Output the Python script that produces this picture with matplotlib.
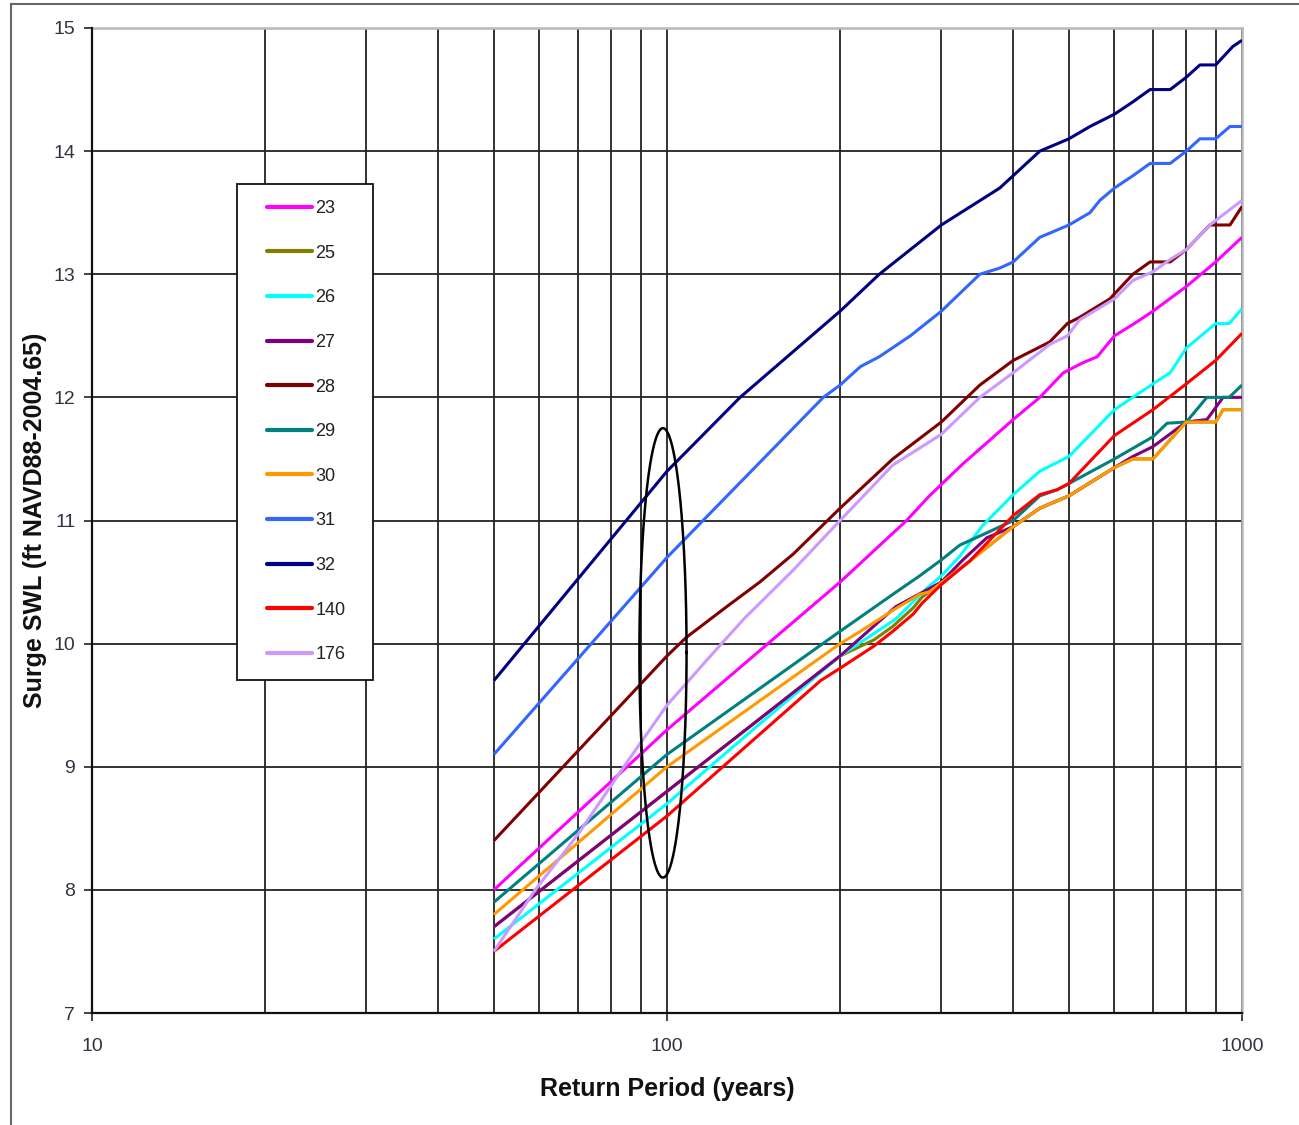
import matplotlib
matplotlib.use("Agg")
import matplotlib.pyplot as plt
import numpy as np
from matplotlib.ticker import LogLocator, FixedLocator, NullFormatter, FuncFormatter
from matplotlib.patches import Rectangle
from matplotlib.lines import Line2D

plt.rcParams['font.family'] = ['Liberation Sans', 'DejaVu Sans']

# ---- data (return period in years, surge SWL in ft) ----
x23 = [50, 100, 200, 261, 286, 327, 400, 445, 489, 528, 560, 600, 650, 700, 800, 900, 1000]
y23 = [8.0, 9.3, 10.5, 11.0, 11.2, 11.46, 11.82, 12.0, 12.2, 12.28, 12.33, 12.5, 12.6, 12.7, 12.9, 13.1, 13.3]

x25 = [50, 100, 200, 229, 247, 268, 278, 286, 336, 400, 445, 500, 600, 646, 700, 800, 900, 927, 1000]
y25 = [7.7, 8.8, 9.9, 10.03, 10.14, 10.29, 10.38, 10.42, 10.67, 10.95, 11.1, 11.2, 11.43, 11.5, 11.5, 11.8, 11.8, 11.9, 11.9]

x26 = [50, 100, 141, 200, 250, 283, 300, 323, 354, 400, 445, 500, 600, 700, 750, 800, 900, 950, 1000]
y26 = [7.6, 8.7, 9.3, 9.9, 10.2, 10.45, 10.55, 10.71, 10.96, 11.21, 11.4, 11.52, 11.9, 12.11, 12.2, 12.4, 12.6, 12.6, 12.72]

x27 = [50, 100, 200, 250, 300, 327, 360, 400, 445, 500, 600, 646, 700, 800, 869, 927, 1000]
y27 = [7.7, 8.8, 9.9, 10.3, 10.5, 10.68, 10.86, 10.95, 11.1, 11.2, 11.43, 11.52, 11.6, 11.8, 11.82, 12.0, 12.0]

x28 = [50, 100, 108, 127, 145, 166, 200, 247, 300, 350, 400, 463, 497, 522, 589, 646, 692, 750, 800, 879, 953, 1000]
y28 = [8.4, 9.9, 10.05, 10.3, 10.5, 10.73, 11.1, 11.5, 11.8, 12.1, 12.3, 12.45, 12.6, 12.65, 12.8, 13.0, 13.1, 13.1, 13.2, 13.4, 13.4, 13.55]

x29 = [50, 100, 200, 247, 275, 300, 323, 360, 400, 445, 477, 500, 600, 700, 741, 800, 869, 950, 1000]
y29 = [7.9, 9.1, 10.1, 10.4, 10.55, 10.68, 10.8, 10.9, 11.0, 11.2, 11.25, 11.3, 11.5, 11.68, 11.79, 11.8, 12.0, 12.0, 12.1]

x30 = [50, 100, 200, 217, 247, 275, 286, 336, 400, 445, 500, 600, 646, 700, 800, 900, 927, 1000]
y30 = [7.8, 9.0, 10.0, 10.1, 10.27, 10.4, 10.42, 10.67, 10.95, 11.1, 11.2, 11.43, 11.5, 11.5, 11.8, 11.8, 11.9, 11.9]

x31 = [50, 100, 187, 200, 217, 234, 265, 300, 350, 379, 400, 445, 500, 544, 566, 600, 646, 692, 750, 800, 845, 900, 953, 1000]
y31 = [9.1, 10.7, 12.0, 12.1, 12.25, 12.33, 12.5, 12.7, 13.0, 13.05, 13.1, 13.3, 13.4, 13.5, 13.6, 13.7, 13.8, 13.9, 13.9, 14.0, 14.1, 14.1, 14.2, 14.2]

x32 = [50, 100, 134, 200, 234, 300, 379, 445, 500, 544, 600, 646, 692, 750, 800, 845, 900, 964, 1000]
y32 = [9.7, 11.4, 12.0, 12.7, 13.0, 13.4, 13.7, 14.0, 14.1, 14.2, 14.3, 14.4, 14.5, 14.5, 14.6, 14.7, 14.7, 14.85, 14.9]

x140 = [50, 100, 185, 200, 229, 247, 268, 278, 300, 336, 400, 445, 477, 500, 600, 700, 800, 900, 1000]
y140 = [7.5, 8.6, 9.7, 9.8, 9.98, 10.1, 10.24, 10.33, 10.48, 10.67, 11.04, 11.21, 11.25, 11.3, 11.69, 11.9, 12.11, 12.3, 12.52]

x176 = [50, 59, 70, 85, 100, 118, 136, 166, 200, 247, 300, 350, 400, 463, 497, 522, 600, 646, 700, 750, 800, 879, 1000]
y176 = [7.5, 8.0, 8.45, 9.03, 9.5, 9.88, 10.2, 10.6, 11.0, 11.45, 11.7, 12.0, 12.2, 12.43, 12.5, 12.63, 12.8, 12.95, 13.02, 13.12, 13.2, 13.4, 13.6]

labels = ['23', '25', '26', '27', '28', '29', '30', '31', '32', '140', '176']
colors = ['#FF00FF', '#808000', '#00FFFF', '#800080', '#800000', '#008080',
          '#FF9900', '#3366FF', '#000080', '#FF0000', '#CC99FF']
series = [(x23, y23), (x25, y25), (x26, y26), (x27, y27), (x28, y28), (x29, y29),
          (x30, y30), (x31, y31), (x32, y32), (x140, y140), (x176, y176)]

x_ticks = [10, 100, 1000]
y_ticks = [7, 8, 9, 10, 11, 12, 13, 14, 15]

# highlight ellipse around the 100-year return period
ell_x_center = 98.4
ell_half_logw = 0.041
ell_y_low, ell_y_high = 8.1, 11.75

# ---- figure ----
W, H = 1299, 1125
fig = plt.figure(figsize=(W / 100, H / 100), dpi=100)
ax = fig.add_axes([92 / W, 1 - 1013 / H, (1242 - 92) / W, (1013 - 28) / H])

ax.set_xscale('log')
ax.set_xlim(10, 1000)
ax.set_ylim(7, 15)

for (xs, ys), lab, col in zip(series, labels, colors):
    ax.plot(xs, ys, color=col, lw=2.2, label=lab, solid_capstyle='butt', zorder=3)

# ellipse
t = np.linspace(0, 2 * np.pi, 400)
ex = 10 ** (np.log10(ell_x_center) + ell_half_logw * np.cos(t))
ey = (ell_y_low + ell_y_high) / 2 + (ell_y_high - ell_y_low) / 2 * np.sin(t)
ax.plot(ex, ey, color='black', lw=1.8, zorder=4)

# ticks and grid
ax.xaxis.set_major_locator(FixedLocator(x_ticks))
ax.xaxis.set_minor_locator(LogLocator(base=10, subs=np.arange(2, 10)))
ax.xaxis.set_minor_formatter(NullFormatter())
ax.xaxis.set_major_formatter(FuncFormatter(lambda v, p: f"{int(round(v))}"))
ax.yaxis.set_major_locator(FixedLocator(y_ticks))
ax.yaxis.set_major_formatter(FuncFormatter(lambda v, p: f"{int(round(v))}"))

ax.grid(True, which='both', axis='x', color='#222222', lw=1.3, zorder=1)
ax.grid(True, which='major', axis='y', color='#222222', lw=1.3, zorder=1)
ax.set_axisbelow(True)

ax.tick_params(axis='both', which='major', direction='out', length=6, width=1.2,
               color='#222222', labelsize=14, labelcolor='#333344')
ax.tick_params(axis='x', which='major', pad=12)
ax.tick_params(axis='y', which='major', pad=6)
ax.tick_params(axis='x', which='minor', length=0)

for s in ['left', 'bottom']:
    ax.spines[s].set_color('#111111')
    ax.spines[s].set_linewidth(1.6)
for s in ['top', 'right']:
    ax.spines[s].set_color('#b8b8b8')
    ax.spines[s].set_linewidth(1.8)
    ax.spines[s].set_zorder(2)

ax.set_xlabel('Return Period (years)', fontsize=18, fontweight='bold', color='#111111', labelpad=16)
ax.set_ylabel('Surge SWL (ft NAVD88-2004.65)', fontsize=18, fontweight='bold', color='#111111')
ax.yaxis.set_label_coords((47 - 92) / (1242 - 92), 0.5)

# legend box (opaque frame) + legend entries
rect = Rectangle((237 / W, 1 - 680 / H), (373 - 237) / W, (680 - 184) / H,
                 transform=fig.transFigure, facecolor='white', edgecolor='#111111',
                 lw=1.3, zorder=5)
ax.add_patch(rect)
rect.set_clip_on(False)

leg = ax.legend(loc='upper left', bbox_to_anchor=(267 / W, 1 - 200 / H),
                bbox_transform=fig.transFigure, frameon=False, fontsize=13,
                handlelength=2.5, handletextpad=0.17, labelspacing=1.53,
                borderpad=0.0, borderaxespad=0.0)
leg.set_zorder(6)
for txt in leg.get_texts():
    txt.set_color('#222222')
for h in leg.legend_handles:
    h.set_linewidth(3.0)
    h.set_solid_capstyle('round')

# outer border of the picture
fig.add_artist(Line2D([11 / W, 1.0], [1 - 4 / H, 1 - 4 / H], transform=fig.transFigure,
                      color='#666666', lw=1.5))
fig.add_artist(Line2D([11 / W, 11 / W], [0.0, 1 - 4 / H], transform=fig.transFigure,
                      color='#666666', lw=1.5))

fig.savefig('out.png', dpi=100, facecolor='white')
